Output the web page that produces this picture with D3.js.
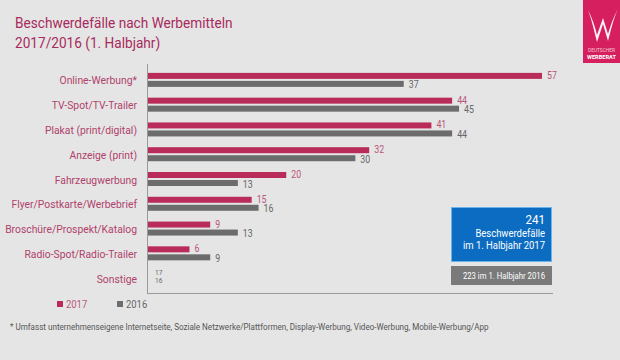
<!DOCTYPE html>
<html>
<head>
<meta charset="utf-8">
<script src="https://cdn.jsdelivr.net/npm/d3@7"></script>
<style>
  html, body { margin: 0; padding: 0; background: #e5e5e5; }
  svg { display: block; font-family: Roboto, "Open Sans", sans-serif; }
</style>
</head>
<body>
<svg id="chart" width="620" height="360"></svg>
<script>
const categories = [
  "Online-Werbung*", "TV-Spot/TV-Trailer", "Plakat (print/digital)", "Anzeige (print)",
  "Fahrzeugwerbung", "Flyer/Postkarte/Werbebrief", "Broschüre/Prospekt/Katalog",
  "Radio-Spot/Radio-Trailer", "Sonstige"
];
const values2017 = [57, 44, 41, 32, 20, 15, 9, 6, 17];
const values2016 = [37, 45, 44, 30, 13, 16, 13, 9, 16];
const barShown = [true, true, true, true, true, true, true, true, false];
const seriesNames = ["2017", "2016"];
const titleLines = ["Beschwerdefälle nach Werbemitteln", "2017/2016 (1. Halbjahr)"];
const totalLines = ["241", "Beschwerdefälle", "im 1. Halbjahr 2017"];
const prevTotalLine = "223 im 1. Halbjahr 2016";
const footnote = "* Umfasst  unternehmenseigene Internetseite, Soziale Netzwerke/Plattformen,  Display-Werbung,  Video-Werbung,  Mobile-Werbung/App";
const logoLines = ["DEUTSCHER", "WERBERAT"];

const PINK = "#b92c5a", GREY = "#6c6c6c", LABEL = "#b0426c", TITLE = "#a82a5c";
const svg = d3.select("#chart");
svg.append("rect").attr("width", 620).attr("height", 360).attr("fill", "#e5e5e5");

// horizontal condensing (the reference uses a condensed face)
function squeeze(sel, k) {
  sel.each(function () {
    const w = this.getComputedTextLength();
    d3.select(this).attr("textLength", w * k).attr("lengthAdjust", "spacingAndGlyphs");
  });
}

// title
svg.selectAll("text.title").data(titleLines).join("text")
  .attr("class", "title")
  .attr("x", 15).attr("y", (d, i) => 28 + i * 20)
  .attr("fill", TITLE).attr("font-size", 14.5)
  .text(d => d)
  .call(squeeze, 0.94);

// logo
const logo = svg.append("g");
logo.append("rect").attr("x", 583).attr("y", 0).attr("width", 37).attr("height", 63).attr("fill", "#d51f5f");
logo.append("path")
  .attr("d", "M588,10 C592,20 594,31 597,42 L603,24 L608,41 C611,30 613,20 618,9 C613,18 610,27 608,34 L603,18 L597,35 C595,26 592,18 588,10 Z")
  .attr("fill", "#fff").attr("opacity", 0.95);
logo.selectAll("text").data(logoLines).join("text")
  .attr("x", 601.5).attr("y", (d, i) => 52 + i * 6.5)
  .attr("text-anchor", "middle")
  .attr("font-size", (d, i) => i ? 5.6 : 4.8)
  .attr("font-weight", (d, i) => i ? 700 : 400)
  .attr("fill", (d, i) => i ? "#fff" : "#f6c6d6")
  .text(d => d);

// scales
const x = d3.scaleLinear().domain([0, 57]).range([148, 542]);
const y = d3.scaleBand().domain(categories).range([68, 291]).padding(0);
const cy = c => y(c) + y.bandwidth() / 2;

// axes lines
svg.append("line").attr("x1", 147.5).attr("x2", 147.5).attr("y1", 64).attr("y2", 293)
  .attr("stroke", "#9a9a9a").attr("stroke-width", 1);
svg.append("line").attr("x1", 147).attr("x2", 553).attr("y1", 293.5).attr("y2", 293.5)
  .attr("stroke", "#9a9a9a").attr("stroke-width", 1);

// category labels
svg.selectAll("text.cat").data(categories).join("text")
  .attr("class", "cat")
  .attr("x", 137).attr("y", d => cy(d) + 4)
  .attr("text-anchor", "end").attr("fill", LABEL).attr("font-size", 11.5)
  .text(d => d)
  .call(squeeze, 0.9);

const rows = categories.map((c, i) => ({ c, v17: values2017[i], v16: values2016[i], shown: barShown[i] }));

// bars
svg.selectAll("rect.b17").data(rows.filter(r => r.shown)).join("rect")
  .attr("x", x(0)).attr("y", d => cy(d.c) - 7.5)
  .attr("width", d => x(d.v17) - x(0)).attr("height", 6).attr("fill", PINK);
svg.selectAll("rect.b16").data(rows.filter(r => r.shown)).join("rect")
  .attr("x", x(0)).attr("y", d => cy(d.c) + 0.5)
  .attr("width", d => x(d.v16) - x(0)).attr("height", 6).attr("fill", GREY);

// value labels
svg.selectAll("text.v17").data(rows).join("text")
  .attr("x", d => d.shown ? x(d.v17) + 5 : x(0) + 7)
  .attr("y", d => d.shown ? cy(d.c) - 1.5 : cy(d.c) - 4)
  .attr("fill", d => d.shown ? "#b8557a" : "#666")
  .attr("font-size", d => d.shown ? 10 : 7.5)
  .text(d => d.v17)
  .call(squeeze, 0.88);
svg.selectAll("text.v16").data(rows).join("text")
  .attr("x", d => d.shown ? x(d.v16) + 5 : x(0) + 7)
  .attr("y", d => d.shown ? cy(d.c) + 8 : cy(d.c) + 4.5)
  .attr("fill", "#666")
  .attr("font-size", d => d.shown ? 10 : 7.5)
  .text(d => d.v16)
  .call(squeeze, 0.88);

// legend
const leg = svg.append("g");
[PINK, GREY].forEach((col, i) => {
  leg.append("rect").attr("x", 57 + i * 60).attr("y", 301).attr("width", 6).attr("height", 6).attr("fill", col);
  leg.append("text").attr("x", 66 + i * 60).attr("y", 307.5)
    .attr("fill", i ? "#666" : "#b8557a").attr("font-size", 10.5).text(seriesNames[i])
    .call(squeeze, 0.9);
});

// total box
svg.append("rect").attr("x", 451.5).attr("y", 207.5).attr("width", 100).attr("height", 54)
  .attr("fill", "#0b6cc2").attr("stroke", "#69b4ec").attr("stroke-width", 1);
svg.selectAll("text.tot").data(totalLines).join("text")
  .attr("x", 545).attr("y", (d, i) => [223.5, 236.5, 249][i])
  .attr("text-anchor", "end").attr("fill", "#fff")
  .attr("font-size", (d, i) => i ? 11 : 13.5)
  .text(d => d)
  .call(squeeze, 0.86);
svg.append("rect").attr("x", 451).attr("y", 266).attr("width", 101).attr("height", 19).attr("fill", "#7a7a7a");
svg.append("text").attr("x", 545).attr("y", 278.5).attr("text-anchor", "end")
  .attr("fill", "#fff").attr("font-size", 9).text(prevTotalLine)
  .call(squeeze, 0.86);

// footnote
svg.append("text").attr("x", 10).attr("y", 330).attr("fill", "#555").attr("font-size", 9.5).text(footnote)
  .call(squeeze, 0.85);
</script>
</body>
</html>
